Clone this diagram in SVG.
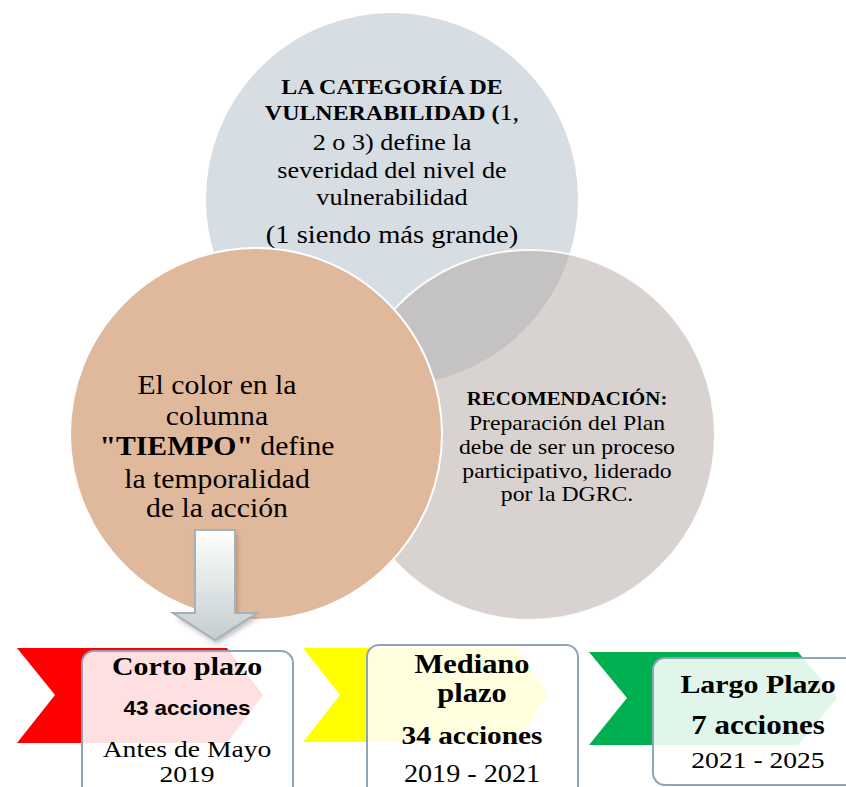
<svg xmlns="http://www.w3.org/2000/svg" width="846" height="787" viewBox="0 0 846 787">
<defs>
<style>
.s{font-family:"Liberation Serif","DejaVu Serif",serif;fill:#000;text-anchor:middle}
.b{font-weight:bold}
.sans{font-family:"Liberation Sans","DejaVu Sans",sans-serif;font-weight:bold;fill:#000;text-anchor:middle}
.box{fill:#fff;fill-opacity:0.88;stroke:#8FA3BB;stroke-width:2}
.circ{stroke:#fff;stroke-width:2}
</style>
<linearGradient id="ag" x1="0" y1="0" x2="0" y2="1">
<stop offset="0" stop-color="#ffffff"/>
<stop offset="1" stop-color="#C3CDCF"/>
</linearGradient>
<filter id="sh" x="-30%" y="-30%" width="160%" height="160%">
<feGaussianBlur stdDeviation="2.5"/>
</filter>
</defs>
<rect width="846" height="787" fill="#fff"/>
<g id="circle-top">
<circle class="circ" cx="392" cy="199" r="187" fill="#D6DDE3"/>
</g>
<g id="circle-right">
<circle class="circ" cx="530" cy="435" r="185" fill="#B2A7A2" fill-opacity="0.5" stroke-opacity="0.9"/>
</g>
<g id="circle-left">
<circle class="circ" cx="256" cy="434" r="186" fill="#E0B89B"/>
</g>
<g id="text-top" transform="matrix(1.14,0,0,1,-54.88,0)">
<text class="s" font-size="21"><tspan class="b" x="392" y="94">LA CATEGORÍA DE</tspan><tspan x="392" y="120"><tspan class="b">VULNERABILIDAD (</tspan><tspan font-size="23">1,</tspan></tspan></text>
<text class="s" font-size="23"><tspan x="392" y="150">2 o 3) define la</tspan><tspan x="392" y="178">severidad del nivel de</tspan><tspan x="392" y="205">vulnerabilidad</tspan></text>
<text class="s" font-size="25" x="392" y="243">(1 siendo más grande)</text>
</g>
<g id="text-left" transform="matrix(1.08,0,0,1,-17.36,0)">
<text class="s" font-size="27.5"><tspan x="217" y="394">El color en la</tspan><tspan x="217" y="425">columna</tspan><tspan x="217" y="455"><tspan class="b">"TIEMPO"</tspan> define</tspan><tspan x="217" y="488">la temporalidad</tspan><tspan x="217" y="517">de la acción</tspan></text>
</g>
<g id="text-right" transform="matrix(1.13,0,0,1,-73.71,0)">
<text class="s b" font-size="18.5" x="567" y="405">RECOMENDACIÓN:</text>
<text class="s" font-size="21"><tspan x="567" y="430">Preparación del Plan</tspan><tspan x="567" y="454">debe de ser un proceso</tspan><tspan x="567" y="478">participativo, liderado</tspan><tspan x="567" y="501">por la DGRC.</tspan></text>
</g>
<g id="connectors">
<path d="M197,534 L237,534 L237,617 L259,617 L217,644 L175,617 L197,617 Z" fill="#000" fill-opacity="0.25" filter="url(#sh)"/>
<path d="M195,530 L235,530 L235,613 L257,613 L215,640 L173,613 L195,613 Z" fill="url(#ag)" stroke="#A6B3B6" stroke-width="2"/>
</g>
<g id="corto">
<polygon points="17,648 227,648 263,695 227,743 17,743 55,695" fill="#FF0000"/>
<rect class="box" x="82" y="651" width="211" height="150" rx="12"/>
<g transform="matrix(1.15,0,0,1,-28.05,0)">
<text class="s b" x="187" y="675" font-size="26">Corto plazo</text>
<text class="sans" x="187" y="715" font-size="19.5">43 acciones</text>
<text class="s" x="187" y="757" font-size="24">Antes de Mayo</text>
<text class="s" x="187" y="782" font-size="24">2019</text>
</g>
</g>
<g id="mediano">
<polygon points="303,648 517,648 548,695 517,742 303,742 340,695" fill="#FFFF00"/>
<rect class="box" x="367" y="645" width="211" height="160" rx="12"/>
<g transform="matrix(1.15,0,0,1,-70.8,0)">
<text class="s b" x="472" y="673" font-size="26.5">Mediano</text>
<text class="s b" x="472" y="702" font-size="26.5">plazo</text>
<text class="s b" x="472" y="744" font-size="25.5">34 acciones</text>
<text class="s" x="472" y="782" font-size="24.5">2019 - 2021</text>
</g>
</g>
<g id="largo">
<polygon points="589,652 798,652 837,698 798,745 589,745 627,698" fill="#00B050"/>
<rect class="box" x="653" y="658" width="212" height="127" rx="12"/>
<g transform="matrix(1.15,0,0,1,-113.7,0)">
<text class="s b" x="758" y="693" font-size="26">Largo Plazo</text>
<text class="s b" x="758" y="734" font-size="27">7 acciones</text>
<text class="s" x="758" y="768" font-size="24">2021 - 2025</text>
</g>
</g>
</svg>
